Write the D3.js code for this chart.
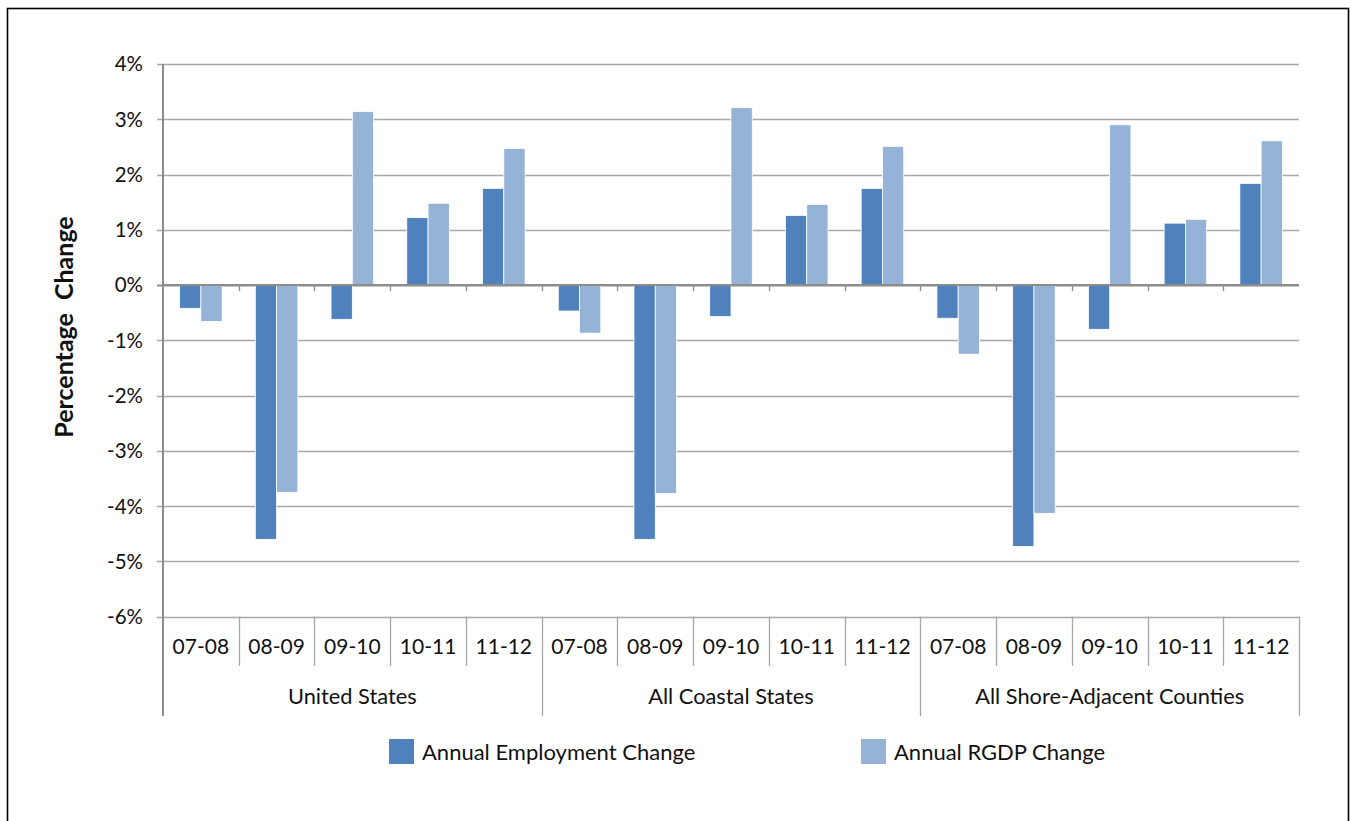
<!DOCTYPE html>
<html><head><meta charset="utf-8">
<script src="https://cdn.jsdelivr.net/npm/d3@7"></script>
<style>
html,body{margin:0;padding:0;background:#fff;}
svg{display:block;}
text{font-family:Lato,"Open Sans",sans-serif;fill:#111;}
</style></head>
<body>
<svg id="chart" width="1351" height="821"></svg>
<script>
const groups = ["United States", "All Coastal States", "All Shore-Adjacent Counties"];
const periods = ["07-08", "08-09", "09-10", "10-11", "11-12"];
const seriesNames = ["Annual Employment Change", "Annual RGDP Change"];
const employment = [
  -0.42, -4.60, -0.62, 1.22, 1.75,
  -0.47, -4.60, -0.57, 1.26, 1.75,
  -0.60, -4.73, -0.80, 1.12, 1.84
];
const rgdp = [
  -0.66, -3.75, 3.14, 1.48, 2.47,
  -0.87, -3.77, 3.21, 1.46, 2.51,
  -1.25, -4.13, 2.90, 1.19, 2.61
];
const yTicks = [4, 3, 2, 1, 0, -1, -2, -3, -4, -5, -6];
const colors = ["#4f81bd", "#95b3d7"];

(function draw() {
const svg = d3.select("#chart");
// outer frame
svg.append("rect").attr("x", 7.5).attr("y", 8.5).attr("width", 1341).attr("height", 830)
  .attr("fill", "none").attr("stroke", "#000").attr("stroke-width", 1.6);

const pl = 163, pr = 1299, pt = 64, pb = 616.7;
const y = d3.scaleLinear().domain([-6, 4]).range([pb, pt]);

const cats = [];
groups.forEach((g, gi) => periods.forEach((p, pi) => cats.push({g, p, i: gi * periods.length + pi})));
const x = d3.scaleBand().domain(cats.map(c => c.i)).range([pl, pr]).paddingInner(0).paddingOuter(0);
const xs = d3.scaleBand().domain([0, 1]).range([0, x.bandwidth()]).paddingInner(0).paddingOuter(0.78);

// gridlines
svg.append("g").selectAll("line").data(yTicks).join("line")
  .attr("x1", pl - 6).attr("x2", pr)
  .attr("y1", d => Math.round(y(d)) + 0.5).attr("y2", d => Math.round(y(d)) + 0.5)
  .attr("stroke", d => d === 0 ? "#8c8c8c" : "#a6a6a6").attr("stroke-width", d => d === 0 ? 2 : 1.3);

// y tick labels
svg.append("g").selectAll("text").data(yTicks).join("text")
  .attr("x", 143).attr("y", d => y(d)).attr("dy", "0.36em")
  .attr("text-anchor", "end").attr("font-size", 20.5)
  .text(d => d + "%");

// bars
const barData = [];
cats.forEach(c => {
  barData.push({c, s: 0, v: employment[c.i]});
  barData.push({c, s: 1, v: rgdp[c.i]});
});
svg.append("g").selectAll("rect").data(barData).join("rect")
  .attr("x", d => x(d.c.i) + xs(d.s))
  .attr("width", xs.bandwidth())
  .attr("y", d => y(Math.max(0, d.v)))
  .attr("height", d => Math.abs(y(d.v) - y(0)))
  .attr("fill", d => colors[d.s])
  .attr("stroke", "#fff").attr("stroke-width", 0.8);

// zero line on top
svg.append("line").attr("x1", pl).attr("x2", pr).attr("y1", y(0)).attr("y2", y(0))
  .attr("stroke", "#8c8c8c").attr("stroke-width", 2);
// small ticks on zero line
svg.append("g").selectAll("line").data(d3.range(1, cats.length)).join("line")
  .attr("x1", i => Math.round(pl + i * x.step()) + 0.5).attr("x2", i => Math.round(pl + i * x.step()) + 0.5)
  .attr("y1", y(0)).attr("y2", y(0) + 6)
  .attr("stroke", "#8c8c8c").attr("stroke-width", 1.3);

// y axis line
svg.append("line").attr("x1", pl).attr("x2", pl).attr("y1", pt).attr("y2", 716)
  .attr("stroke", "#8c8c8c").attr("stroke-width", 2);

// category separators
svg.append("g").selectAll("line").data(d3.range(1, cats.length + 1)).join("line")
  .attr("x1", i => Math.round(pl + i * x.step()) + 0.5).attr("x2", i => Math.round(pl + i * x.step()) + 0.5)
  .attr("y1", pb).attr("y2", i => (i % periods.length === 0) ? 716 : 666)
  .attr("stroke", "#a6a6a6").attr("stroke-width", 1.3);

// category labels
svg.append("g").selectAll("text").data(cats).join("text")
  .attr("x", d => x(d.i) + x.bandwidth() / 2).attr("y", 654)
  .attr("text-anchor", "middle").attr("font-size", 21)
  .text(d => d.p);
// group labels
svg.append("g").selectAll("text").data(groups).join("text")
  .attr("x", (g, gi) => pl + (gi + 0.5) * periods.length * x.step()).attr("y", 704)
  .attr("text-anchor", "middle").attr("font-size", 21.8)
  .text(d => d);

// y axis title
svg.append("text").attr("transform", "translate(73,327) rotate(-90)")
  .attr("text-anchor", "middle").attr("font-size", 25).attr("font-weight", "bold")
  .attr("word-spacing", 7)
  .text("Percentage Change");

// legend
const legX = [389, 861];
const leg = svg.append("g").selectAll("g").data(seriesNames).join("g")
  .attr("transform", (d, i) => `translate(${legX[i]},739)`);
leg.append("rect").attr("width", 25).attr("height", 25).attr("fill", (d, i) => colors[i]);
leg.append("text").attr("x", 33).attr("y", 21).attr("font-size", 22).text(d => d);
})();
</script>
</body></html>
